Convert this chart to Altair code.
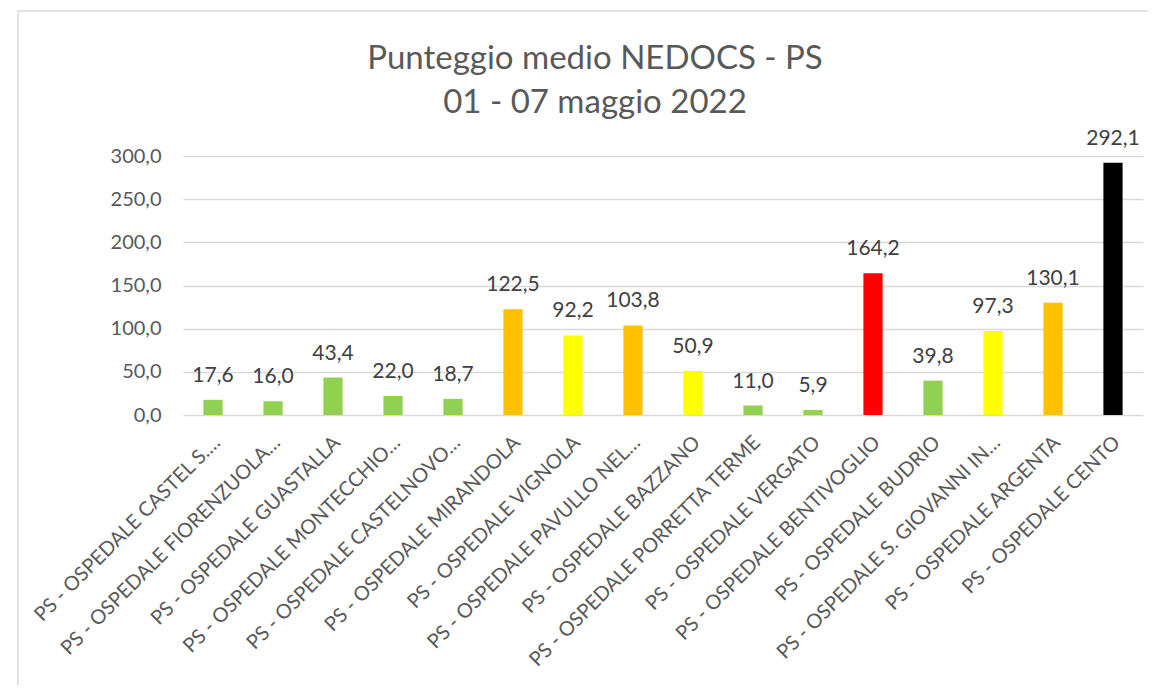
import altair as alt
import pandas as pd

categories = [
    "PS - OSPEDALE CASTEL S.…",
    "PS - OSPEDALE FIORENZUOLA…",
    "PS - OSPEDALE GUASTALLA",
    "PS - OSPEDALE MONTECCHIO…",
    "PS - OSPEDALE CASTELNOVO…",
    "PS - OSPEDALE MIRANDOLA",
    "PS - OSPEDALE VIGNOLA",
    "PS - OSPEDALE PAVULLO NEL…",
    "PS - OSPEDALE BAZZANO",
    "PS - OSPEDALE PORRETTA TERME",
    "PS - OSPEDALE VERGATO",
    "PS - OSPEDALE BENTIVOGLIO",
    "PS - OSPEDALE BUDRIO",
    "PS - OSPEDALE S. GIOVANNI IN…",
    "PS - OSPEDALE ARGENTA",
    "PS - OSPEDALE CENTO",
]
values = [17.6, 16.0, 43.4, 22.0, 18.7, 122.5, 92.2, 103.8, 50.9, 11.0, 5.9,
          164.2, 39.8, 97.3, 130.1, 292.1]
bar_colors = ["#92D050", "#92D050", "#92D050", "#92D050", "#92D050", "#FFC000",
              "#FFFF00", "#FFC000", "#FFFF00", "#92D050", "#92D050", "#FF0000",
              "#92D050", "#FFFF00", "#FFC000", "#000000"]
y_ticks = [0, 50, 100, 150, 200, 250, 300]
title_lines = ["Punteggio medio NEDOCS - PS", "01 - 07 maggio 2022"]

df = pd.DataFrame({
    "cat": categories,
    "val": values,
    "col": bar_colors,
    "lab": [f"{v:.1f}".replace(".", ",") for v in values],
})

FONT = "Lato"
GREY = "#595959"

x_enc = alt.X(
    "cat:N", sort=categories, title=None,
    scale=alt.Scale(paddingInner=0.68, paddingOuter=0.34),
    axis=alt.Axis(labelAngle=-45, labelAlign="right", labelBaseline="top",
                  labelPadding=17, labelOffset=-3, labelLimit=500, labelFontSize=20,
                  labelFont=FONT, labelColor=GREY, ticks=False, domain=False),
)
y_enc = alt.Y(
    "val:Q", title=None,
    scale=alt.Scale(domain=[0, 300], nice=False),
    axis=alt.Axis(values=y_ticks, labelExpr="replace(format(datum.value, '.1f'), '.', ',')",
                  labelFontSize=20, labelFont=FONT, labelColor=GREY, labelPadding=22,
                  ticks=False, domain=False, gridColor="#D9D9D9", gridWidth=1.5),
)

bars = alt.Chart(df).mark_bar().encode(
    x=x_enc, y=y_enc, color=alt.Color("col:N", scale=None)
)
labels = alt.Chart(df).mark_text(
    baseline="alphabetic", dy=-18, fontSize=21, font=FONT, color="#404040"
).encode(x=alt.X("cat:N", sort=categories), y="val:Q", text="lab:N")

border = alt.Chart(pd.DataFrame({"a": [0]})).mark_rect(
    fill=None, stroke="#D9D9D9", strokeWidth=1.5
).encode(x=alt.value(-165), x2=alt.value(1200), y=alt.value(-145), y2=alt.value(700))

chart = alt.layer(border, bars, labels).properties(
    width=960, height=259,
    autosize=alt.AutoSizeParams(type="none"),
    padding={"left": 175, "top": 148, "right": 5, "bottom": 270},
    title=alt.TitleParams(
        text=title_lines, font=FONT, fontSize=33, fontWeight="normal",
        color=GREY, lineHeight=44, anchor="middle", dx=-68, offset=-110,
    ),
).configure_view(stroke=None)

chart.save("out.html", embed_options={"renderer": "svg", "actions": False})
